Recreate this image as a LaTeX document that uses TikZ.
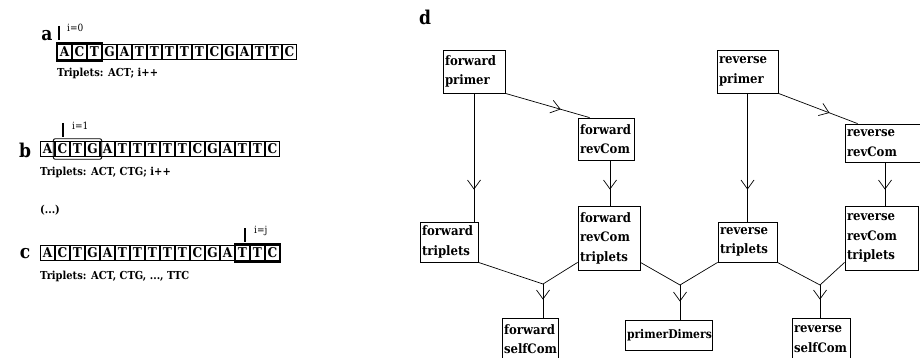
\documentclass[tikz,border=0pt]{standalone}
\usepackage{fontspec}
\setmainfont{DejaVu Serif Condensed}
\usetikzlibrary{arrows.meta,decorations.markings,fit}
\begin{document}
\begin{tikzpicture}[x=1pt,y=-1pt,
  cell/.style={draw,line width=1pt,minimum width=13.5pt,minimum height=15.5pt,inner sep=0pt,font=\bfseries\fontsize{13.5}{13.5}\selectfont},
  panel/.style={font=\bfseries\fontsize{19}{19}\selectfont,inner sep=0pt},
  txt/.style={font=\bfseries\fontsize{11}{12}\selectfont,inner sep=0pt,anchor=west},
  idx/.style={font=\fontsize{10}{10}\selectfont,inner sep=0pt,anchor=west},
  pbox/.style={draw,line width=0.8pt,inner sep=1.5pt,align=left,font=\bfseries\fontsize{13}{19.5}\selectfont},
  conn/.style={line width=0.7pt},
  vee/.style={postaction={decorate},decoration={markings,mark=at position #1 with {\arrow[line width=0.7pt]{Straight Barb[length=9pt,width=13pt]}}}}
]
\useasboundingbox (0,0) rectangle (920,358);
% ---------- panel labels
\node[panel] (la) at (47,36) {a};
\node[panel] (lb) at (25,150) {b};
\node[panel] (lc) at (25,254) {c};
\node[panel] (ld) at (425,17) {d};
% ---------- row a
\foreach \L [count=\k] in {A,C,T,G,A,T,T,T,T,T,C,G,A,T,T,C}
  \node[cell] (a\k) at (49.5+15*\k,52) {\L};
\node[fit=(a1)(a3),draw,line width=2.2pt,inner sep=0.5pt] (fa) {};
\draw[line width=2.6pt] (59,26) -- (59,40);
\node[idx] (ia) at (67,28) {i=0};
\node[txt] (ta) at (57,73) {Triplets: ACT; i++};
% ---------- row b
\foreach \L [count=\k] in {A,C,T,G,A,T,T,T,T,T,C,G,A,T,T,C}
  \node[cell] (b\k) at (32.5+15*\k,149) {\L};
\node[fit=(b2)(b4),draw,line width=0.9pt,rounded corners=2pt,inner sep=2pt] (fb) {};
\draw[line width=2.6pt] (63,123) -- (63,137);
\node[idx] (ib) at (72,126) {i=1};
\node[txt] (tb) at (40,172) {Triplets: ACT, CTG; i++};
\node[txt] (dots) at (40,210) {(...)};
% ---------- row c
\foreach \L [count=\k] in {A,C,T,G,A,T,T,T,T,T,C,G,A,T,T,C}
  \node[cell] (c\k) at (32.5+15*\k,253) {\L};
\node[fit=(c14)(c16),draw,line width=2.2pt,inner sep=0.5pt] (fc) {};
\draw[line width=2.6pt] (245,228) -- (245,242);
\node[idx] (ic) at (254,231) {i=j};
\node[txt] (tc) at (40,276) {Triplets: ACT, CTG, ..., TTC};
% ---------- panel d boxes
\node[pbox,minimum width=62pt,minimum height=43pt,text width=58pt] (fp) at (474,71.5) {forward\\primer};
\node[pbox,minimum width=56pt,minimum height=42pt,text width=52pt] (frc) at (606,139) {forward\\revCom};
\node[pbox,minimum width=58pt,minimum height=40pt,text width=54pt] (ft) at (449,242) {forward\\triplets};
\node[pbox,minimum width=62pt,minimum height=64pt,text width=58pt] (frct) at (609,238) {forward\\revCom\\triplets};
\node[pbox,minimum width=61pt,minimum height=43pt,text width=57pt] (rp) at (747.5,71.5) {reverse\\primer};
\node[pbox,minimum width=80pt,minimum height=38pt,text width=76pt] (rrc) at (885,143) {reverse\\revCom};
\node[pbox,minimum width=73pt,minimum height=64pt,text width=69pt] (rrct) at (881.5,238) {reverse\\revCom\\triplets};
\node[pbox,minimum width=59pt,minimum height=40pt,text width=55pt] (rt) at (747.5,242) {reverse\\triplets};
\node[pbox,minimum width=56pt,minimum height=42pt,text width=52pt] (fsc) at (530,339) {forward\\selfCom};
\node[pbox,minimum width=87pt,minimum height=30pt,text width=83pt,font=\bfseries\fontsize{12}{19.5}\selectfont] (pd) at (668.5,335) {primerDimers};
\node[pbox,minimum width=58pt,minimum height=42pt,text width=54pt] (rsc) at (821,339) {reverse\\selfCom};
% merge points
\coordinate (m1) at (543,284);
\coordinate (m2) at (680,285);
\coordinate (m3) at (820,285);
% ---------- connectors
\draw[conn,vee=-32pt] (fp.south -| 474,0) -- (ft.north -| 474,0);
\draw[conn,vee=-30pt] (fp.south east) -- ([xshift=12pt]frc.north west);
\draw[conn,vee=-16pt] (frc.south -| 610,0) -- (frct.north -| 610,0);
\draw[conn,vee=-32pt] (rp.south) -- (rt.north);
\draw[conn,vee=-30pt] (rp.south east) -- ([xshift=13pt]rrc.north west);
\draw[conn,vee=-16pt] (rrc.south -| 885,0) -- (rrct.north -| 885,0);
\draw[conn] (ft.south east) -- (m1);
\draw[conn] ([yshift=8pt]frct.south west) -- (m1);
\draw[conn,vee=-18pt] (m1) -- (fsc.north -| m1);
\draw[conn] ([yshift=8pt]frct.south east) -- (m2);
\draw[conn] (rt.south west) -- (m2);
\draw[conn,vee=-18pt] (m2) -- (pd.north -| m2);
\draw[conn] (rt.south east) -- (m3);
\draw[conn] ([yshift=8pt]rrct.south west) -- (m3);
\draw[conn,vee=-18pt] (m3) -- (rsc.north -| m3);
\end{tikzpicture}
\end{document}
